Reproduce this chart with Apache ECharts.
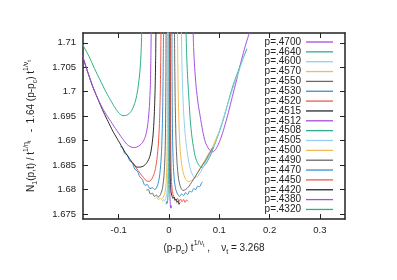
<!DOCTYPE html>
<html>
<head>
<meta charset="utf-8">
<script src="https://cdn.jsdelivr.net/npm/echarts@6/dist/echarts.min.js"></script>
<style>html,body{margin:0;padding:0;background:#fff;}#c{width:397px;height:280px;}</style>
</head>
<body>
<div id="c"></div>
<script>
// ---- data ----
const seriesNames = ['p=.4700','p=.4640','p=.4600','p=.4570','p=.4550','p=.4530','p=.4520','p=.4515','p=.4512',
  'p=.4508','p=.4505','p=.4500','p=.4490','p=.4470','p=.4450','p=.4420','p=.4380','p=.4320'];
const xTicks = [-0.1, 0, 0.1, 0.2, 0.3];
const yTicks = [1.675, 1.68, 1.685, 1.69, 1.695, 1.7, 1.705, 1.71];

const p4700 = [[0.0475,1.714],[0.049,1.709],[0.051,1.705],[0.054,1.701],[0.058,1.6975],[0.062,1.695],[0.067,1.692],[0.072,1.6898],[0.079,1.6883],[0.087,1.6877],[0.094,1.6884],[0.102,1.6902],[0.110,1.6927],[0.118,1.6957],[0.126,1.699],[0.134,1.7022],[0.141,1.7052],[0.148,1.708],[0.156,1.7108],[0.165,1.7135]];
const p4640 = [[0.0335,1.714],[0.035,1.708],[0.037,1.703],[0.040,1.698],[0.042,1.6945],[0.046,1.6905],[0.052,1.6868],[0.058,1.6852],[0.065,1.6845],[0.072,1.6851],[0.0815,1.6868],[0.090,1.689],[0.099,1.6915],[0.108,1.6943],[0.118,1.698],[0.127,1.7012],[0.135,1.7035],[0.145,1.7062],[0.155,1.7088]];
const p4600 = [[0.0245,1.714],[0.0255,1.707],[0.027,1.701],[0.029,1.696],[0.032,1.6915],[0.036,1.6878],[0.041,1.6848],[0.046,1.6832],[0.052,1.6824],[0.058,1.6828],[0.065,1.684],[0.073,1.6856],[0.082,1.6873],[0.091,1.6895],[0.100,1.692],[0.110,1.6952],[0.120,1.6985],[0.130,1.7016],[0.140,1.7045],[0.150,1.7077]];
const p4570 = [[0.0168,1.714],[0.0175,1.706],[0.0185,1.699],[0.020,1.693],[0.022,1.6885],[0.025,1.6853],[0.029,1.6832],[0.034,1.682],[0.039,1.6816],[0.045,1.6819],[0.052,1.6827],[0.060,1.684],[0.069,1.6856],[0.078,1.6872],[0.087,1.6888],[0.096,1.691]];
const p4550 = [[0.0108,1.714],[0.0115,1.705],[0.0125,1.697],[0.014,1.690],[0.016,1.6855],[0.019,1.6822],[0.023,1.6805],[0.028,1.6798],[0.033,1.6800],[0.039,1.6806],[0.045,1.6815],[0.052,1.6826],[0.059,1.6838],[0.066,1.6849],[0.073,1.686],[0.080,1.6873],[0.087,1.6886]];
const p4530 = [[0.0058,1.714],[0.006,1.705],[0.0065,1.697],[0.0072,1.690],[0.0085,1.6853],[0.0105,1.682],[0.0135,1.680],[0.017,1.6791],[0.021,1.6786],[0.025,1.6791],[0.029,1.6788],[0.033,1.6794],[0.037,1.6790],[0.041,1.6797],[0.045,1.6795],[0.049,1.6802],[0.053,1.6800],[0.057,1.6807],[0.061,1.6806],[0.065,1.6814],[0.067,1.6816]];
const p4520 = [[0.0029,1.714],[0.003,1.703],[0.0033,1.694],[0.0037,1.6875],[0.0045,1.683],[0.006,1.6803],[0.008,1.679],[0.011,1.6783],[0.014,1.6778],[0.017,1.6782],[0.020,1.6776],[0.023,1.6781],[0.026,1.6775],[0.029,1.678],[0.032,1.6774],[0.035,1.6779],[0.038,1.6776]];
const p4515 = [[0.0014,1.714],[0.0015,1.702],[0.0017,1.692],[0.002,1.6855],[0.0028,1.6815],[0.004,1.6795],[0.006,1.6787],[0.008,1.6782],[0.010,1.6785],[0.012,1.6778],[0.014,1.6781],[0.016,1.6774],[0.018,1.6777],[0.020,1.677],[0.022,1.6774]];
const p4512 = [[0.0005,1.714],[0.0006,1.700],[0.0008,1.69],[0.0012,1.683],[0.0018,1.679],[0.0025,1.6772],[0.003,1.6764],[0.0035,1.6768],[0.004,1.6762],[0.005,1.6767]];
const p4508 = [[-0.0005,1.714],[-0.0006,1.700],[-0.0008,1.69],[-0.0012,1.683],[-0.0018,1.6792],[-0.0026,1.6778],[-0.0035,1.6772],[-0.0045,1.6776],[-0.006,1.677]];
const p4505 = [[-0.0014,1.714],[-0.0015,1.702],[-0.0017,1.692],[-0.002,1.6855],[-0.003,1.681],[-0.0045,1.679],[-0.0065,1.6782],[-0.009,1.6777],[-0.011,1.678],[-0.013,1.6775]];
const p4500 = [[-0.0029,1.714],[-0.003,1.703],[-0.0033,1.694],[-0.0038,1.6875],[-0.0048,1.6835],[-0.0065,1.6805],[-0.009,1.679],[-0.012,1.6784],[-0.015,1.678],[-0.018,1.6783],[-0.021,1.6779],[-0.024,1.6785],[-0.027,1.6782]];
const p4490 = [[-0.0058,1.714],[-0.006,1.705],[-0.0065,1.697],[-0.0072,1.690],[-0.0085,1.6855],[-0.0105,1.6822],[-0.0135,1.680],[-0.017,1.679],[-0.021,1.6785],[-0.025,1.6789],[-0.029,1.6786],[-0.033,1.6793],[-0.037,1.6791],[-0.041,1.68],[-0.045,1.6799]];
const p4470 = [[-0.0108,1.714],[-0.0115,1.705],[-0.0125,1.697],[-0.014,1.690],[-0.016,1.6857],[-0.019,1.6826],[-0.023,1.6808],[-0.028,1.6800],[-0.033,1.6804],[-0.038,1.6802],[-0.043,1.6810],[-0.048,1.6809],[-0.053,1.6821],[-0.058,1.6826],[-0.063,1.6838],[-0.068,1.6842],[-0.073,1.6855],[-0.078,1.6859],[-0.083,1.6871],[-0.088,1.6874],[-0.093,1.6886],[-0.097,1.6888]];
const p4450 = [[-0.0158,1.714],[-0.0165,1.706],[-0.0175,1.699],[-0.019,1.6935],[-0.021,1.6895],[-0.024,1.6862],[-0.028,1.6838],[-0.033,1.6824],[-0.039,1.6817],[-0.045,1.6818],[-0.051,1.6825],[-0.058,1.6834],[-0.065,1.6844],[-0.072,1.6855]];
const p4420 = [[-0.0258,1.714],[-0.0265,1.707],[-0.0275,1.701],[-0.029,1.696],[-0.031,1.692],[-0.034,1.689],[-0.038,1.6868],[-0.044,1.6855],[-0.051,1.6848],[-0.058,1.6846],[-0.064,1.6846],[-0.071,1.6853],[-0.079,1.6864],[-0.087,1.6876],[-0.095,1.689],[-0.103,1.6904],[-0.112,1.692],[-0.121,1.6939],[-0.130,1.6958],[-0.141,1.6984],[-0.150,1.7006],[-0.160,1.7035],[-0.172,1.7072]];
const p4380 = [[-0.0352,1.714],[-0.036,1.707],[-0.037,1.7015],[-0.039,1.697],[-0.042,1.6935],[-0.046,1.6912],[-0.052,1.6897],[-0.060,1.6889],[-0.068,1.6886],[-0.0755,1.6887],[-0.084,1.6893],[-0.093,1.6905],[-0.102,1.6918],[-0.111,1.6932],[-0.120,1.6946],[-0.130,1.6962],[-0.141,1.6985],[-0.152,1.7012],[-0.162,1.7042],[-0.172,1.7074]];
const p4320 = [[-0.0538,1.714],[-0.0555,1.708],[-0.058,1.704],[-0.062,1.7005],[-0.067,1.698],[-0.074,1.6962],[-0.082,1.6953],[-0.0915,1.6951],[-0.100,1.6957],[-0.109,1.697],[-0.118,1.6986],[-0.127,1.7003],[-0.137,1.7024],[-0.148,1.7047],[-0.159,1.7072],[-0.172,1.7097]];

const curves = [p4700,p4640,p4600,p4570,p4550,p4530,p4520,p4515,p4512,p4508,p4505,p4500,p4490,p4470,p4450,p4420,p4380,p4320];

// ---- styles ----
const palette = ['#a550e0','#2eae88','#92cff0','#f0bd55','#6a6a6a','#3a8fd0','#f05a48','#2a2a2a'];
const FONT = 'Liberation Sans';
const rich = {
  sub: {fontSize: 7, fontFamily: FONT, color: '#222', verticalAlign: 'bottom', lineHeight: 10},
  sup: {fontSize: 7, fontFamily: FONT, color: '#222', verticalAlign: 'top', lineHeight: 10},
  ss:  {fontSize: 5.5, fontFamily: FONT, color: '#222', verticalAlign: 'top', lineHeight: 10, padding: [3,0,0,0]}
};
const fmt = v => String(+(+v).toFixed(3));

const tickCommon = (vals) => ({show: true, inside: true, length: 5, customValues: vals, lineStyle: {color: '#222', width: 1}});
const lineCommon = {show: true, onZero: false, lineStyle: {color: '#222', width: 1.5}};

const chart = echarts.init(document.getElementById('c'), null, {renderer: 'canvas'});
chart.setOption({
  animation: false,
  backgroundColor: '#fff',
  grid: {left: 83, right: 52, top: 33, bottom: 61, containLabel: false},
  legend: {
    orient: 'vertical', align: 'right', right: 64, top: 37, padding: 0, itemGap: -0.15,
    icon: 'rect', itemWidth: 27, itemHeight: 1.3, selectedMode: false,
    data: seriesNames,
    textStyle: {fontFamily: FONT, fontSize: 10, color: '#222', lineHeight: 10}
  },
  xAxis: [{
    type: 'value', min: -0.171, max: 0.35, position: 'bottom',
    axisLine: lineCommon, splitLine: {show: false},
    axisTick: tickCommon(xTicks),
    axisLabel: {customValues: xTicks, formatter: fmt, fontFamily: FONT, fontSize: 9.5, color: '#222', margin: 6},
    name: '(p-p{sub|c}) t{sup|1/ν}{ss|t} ,    ν{sub|t} = 3.268', nameLocation: 'middle', nameGap: 16,
    nameTextStyle: {fontFamily: FONT, fontSize: 10, color: '#222', lineHeight: 16, rich: rich}
  }, {
    type: 'value', min: -0.171, max: 0.35, position: 'top',
    axisLine: lineCommon, splitLine: {show: false},
    axisTick: tickCommon(xTicks), axisLabel: {show: false}
  }],
  yAxis: [{
    type: 'value', min: 1.674, max: 1.712, position: 'left',
    axisLine: lineCommon, splitLine: {show: false},
    axisTick: tickCommon(yTicks),
    axisLabel: {customValues: yTicks, formatter: fmt, fontFamily: FONT, fontSize: 9.5, color: '#222', margin: 7},
    name: 'N{sub|1}(p,t) / t{sup|1/η}{ss|t}   -  1.64 (p-p{sub|c}) t{sup|1/ν}{ss|t}', nameLocation: 'middle', nameGap: 44,
    nameTextStyle: {fontFamily: FONT, fontSize: 10, color: '#222', lineHeight: 16, rich: rich}
  }, {
    type: 'value', min: 1.674, max: 1.712, position: 'right',
    axisLine: lineCommon, splitLine: {show: false},
    axisTick: tickCommon(yTicks), axisLabel: {show: false}
  }],
  series: curves.map((d, i) => ({
    name: seriesNames[i], type: 'line', data: d, xAxisIndex: 0, yAxisIndex: 0,
    showSymbol: false, smooth: 0.25, clip: true,
    lineStyle: {width: 1, color: palette[i % 8]},
    itemStyle: {color: palette[i % 8]}
  }))
});
</script>
</body>
</html>
